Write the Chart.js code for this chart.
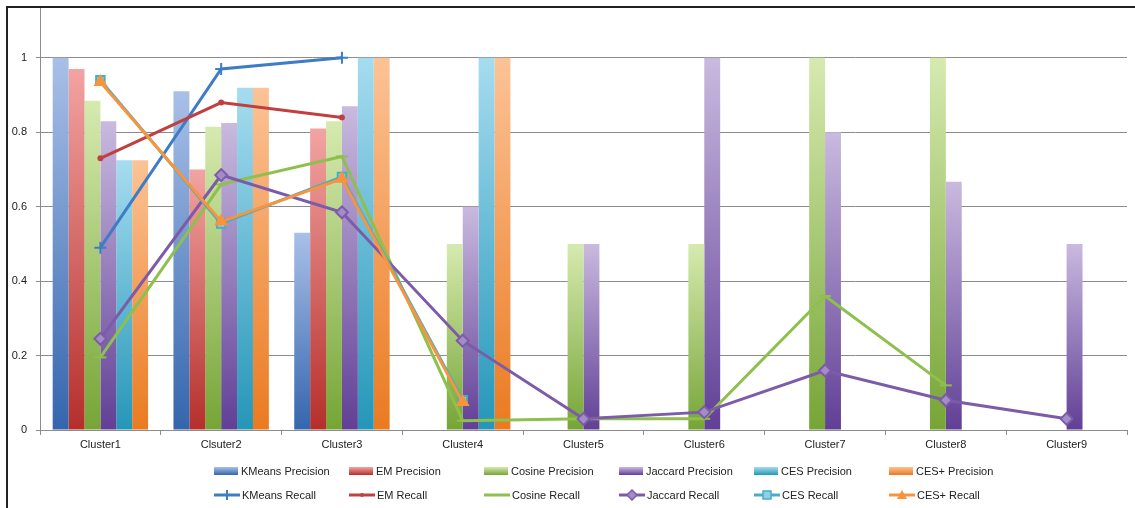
<!DOCTYPE html>
<html>
<head>
<meta charset="utf-8">
<script src="https://cdn.jsdelivr.net/npm/chart.js@4/dist/chart.umd.min.js"></script>
<style>
  html, body { margin: 0; padding: 0; background: #fff; }
  #wrap { position: relative; width: 1135px; height: 508px; overflow: hidden; }
  #frame { position: absolute; left: 6px; top: 6px; right: -4px; bottom: -4px;
           border-top: 2px solid #222; border-left: 2px solid #222; pointer-events: none; }
  canvas { position: absolute; left: 0; top: 0; }
  .lg { position: absolute; font: 11px "Liberation Sans", Arial, sans-serif; color: #222;
        display: flex; align-items: center; white-space: nowrap; }
  .sw { width: 24px; height: 8px; margin-right: 3px; }
  .lg svg { margin-right: 2px; }
</style>
</head>
<body>
<div id="wrap">
  <canvas id="chart" width="1135" height="508"></canvas>
  <div id="frame"></div>
  <div id="legend"></div>
</div>
<script>
const categories = ["Cluster1", "Clsuter2", "Cluster3", "Cluster4", "Cluster5",
                    "Cluster6", "Cluster7", "Cluster8", "Cluster9"];
const yTicks = [0, 0.2, 0.4, 0.6, 0.8, 1];

// precision (bars)
const kmeansPrecision  = [1.0, 0.91, 0.53, null, null, null, null, null, null];
const emPrecision      = [0.97, 0.70, 0.81, null, null, null, null, null, null];
const cosinePrecision  = [0.885, 0.815, 0.83, 0.5, 0.5, 0.5, 1.0, 1.0, null];
const jaccardPrecision = [0.83, 0.825, 0.87, 0.6, 0.5, 1.0, 0.8, 0.667, 0.5];
const cesPrecision     = [0.725, 0.92, 1.0, 1.0, null, null, null, null, null];
const cesPlusPrecision = [0.725, 0.92, 1.0, 1.0, null, null, null, null, null];

// recall (lines)
const kmeansRecall  = [0.49, 0.97, 1.0, null, null, null, null, null, null];
const emRecall      = [0.73, 0.88, 0.84, null, null, null, null, null, null];
const cosineRecall  = [0.195, 0.66, 0.735, 0.025, 0.03, 0.03, 0.36, 0.12, null];
const jaccardRecall = [0.245, 0.685, 0.585, 0.24, 0.03, 0.048, 0.16, 0.08, 0.03];
const cesRecall     = [0.94, 0.555, 0.68, 0.08, null, null, null, null, null];
const cesPlusRecall = [0.935, 0.56, 0.675, 0.075, null, null, null, null, null];

// light top / dark bottom, like the old office gradient bars
function barFill(light, dark) {
    return function (c) {
        const chart = c.chart;
        if (!chart.chartArea || c.type !== "data") return dark;
        const v = c.dataset.data[c.dataIndex];
        if (v == null) return dark;
        const y = chart.scales.y;
        const g = chart.ctx.createLinearGradient(0, y.getPixelForValue(v), 0, y.getPixelForValue(0));
        g.addColorStop(0, light);
        g.addColorStop(1, dark);
        return g;
    };
}

function bar(label, data, light, dark) {
    return {
        type: "bar", label: label, data: data, order: 2,
        backgroundColor: barFill(light, dark), borderWidth: 0,
        barPercentage: 1.0, categoryPercentage: 0.79,
        _light: light, _dark: dark
    };
}

// lower order is drawn on top: later recall series sit above earlier ones
function line(label, data, color, style, radius, fill, order) {
    return {
        type: "line", label: label, data: data, order: order,
        borderColor: color, borderWidth: 3, tension: 0,
        pointStyle: style, pointRadius: radius, pointBorderWidth: 2,
        pointBackgroundColor: fill || color, pointBorderColor: color,
        spanGaps: false
    };
}

const datasets = [
    bar("KMeans Precision", kmeansPrecision, "#a9c0e8", "#3465ad"),
    bar("EM Precision", emPrecision, "#f2a4a2", "#b52f2b"),
    bar("Cosine Precision", cosinePrecision, "#d6eab0", "#76a536"),
    bar("Jaccard Precision", jaccardPrecision, "#c9badf", "#613f96"),
    bar("CES Precision", cesPrecision, "#a6dcf0", "#2596b8"),
    bar("CES+ Precision", cesPlusPrecision, "#fcc396", "#ea7a20"),
    line("KMeans Recall", kmeansRecall, "#3f7cc6", "cross", 6, null, 1.6),
    line("EM Recall", emRecall, "#c0403f", "circle", 2, null, 1.5),
    line("Cosine Recall", cosineRecall, "#8fbf4d", "line", 6, "#8fbf4d", 1.4),
    line("Jaccard Recall", jaccardRecall, "#7c5ba8", "rectRot", 6, "#a48cc8", 1.3),
    line("CES Recall", cesRecall, "#4bacc6", "rect", 6, "#8fd0e6", 1.2),
    line("CES+ Recall", cesPlusRecall, "#f7943c", "triangle", 6, null, 1.1)
];

new Chart(document.getElementById("chart").getContext("2d"), {
    data: { labels: categories, datasets: datasets },
    options: {
        responsive: false,
        animation: false,
        layout: { padding: { left: 10, right: 8, top: 7, bottom: 48 } },
        plugins: { legend: { display: false }, tooltip: { enabled: false } },
        scales: {
            x: {
                grid: { offset: true, drawOnChartArea: false, drawTicks: true, tickLength: 5, color: "#8c8c8c" },
                border: { color: "#8c8c8c", width: 1 },
                ticks: { color: "#222", font: { size: 11, family: "Liberation Sans" }, padding: 3, maxRotation: 0 },
                afterFit: function (s) { s.height = 30; }
            },
            y: {
                min: 0, max: 1.134,
                afterBuildTicks: function (s) { s.ticks = yTicks.map(v => ({ value: v })); },
                grid: { color: "#8c8c8c", tickLength: 4 },
                border: { color: "#8c8c8c", width: 1 },
                ticks: { color: "#222", font: { size: 11, family: "Liberation Sans" }, padding: 9,
                         callback: v => String(v) },
                afterFit: function (s) { s.width = 30; s.paddingTop = 0; s.paddingBottom = 0; }
            }
        }
    }
});

// legend laid out in fixed columns, two rows
const legend = document.getElementById("legend");
const svgMarks = {
    cross: c => `<line x1="13" y1="1" x2="13" y2="11" stroke="${c}" stroke-width="2"/>`,
    circle: c => `<circle cx="13" cy="6" r="2" fill="${c}"/>`,
    line: c => ``,
    rectRot: c => `<polygon points="13,1 18,6 13,11 8,6" fill="#a48cc8" stroke="${c}" stroke-width="1.5"/>`,
    rect: c => `<rect x="9" y="2" width="8" height="8" fill="#8fd0e6" stroke="${c}" stroke-width="1.5"/>`,
    triangle: c => `<polygon points="13,1 18,10 8,10" fill="${c}"/>`
};
datasets.forEach(function (d, i) {
    const col = i % 6, row = Math.floor(i / 6);
    const el = document.createElement("div");
    el.className = "lg";
    el.style.left = (214 + col * 135) + "px";
    el.style.top = (465 + row * 24) + "px";
    let sw;
    if (d.type === "bar") {
        sw = `<div class="sw" style="background:linear-gradient(${d._light},${d._dark})"></div>`;
    } else {
        sw = `<svg width="26" height="12"><line x1="0" y1="6" x2="26" y2="6" stroke="${d.borderColor}" stroke-width="3"/>${svgMarks[d.pointStyle](d.borderColor)}</svg>`;
    }
    el.innerHTML = sw + "<span>" + d.label + "</span>";
    legend.appendChild(el);
});
</script>
</body>
</html>
